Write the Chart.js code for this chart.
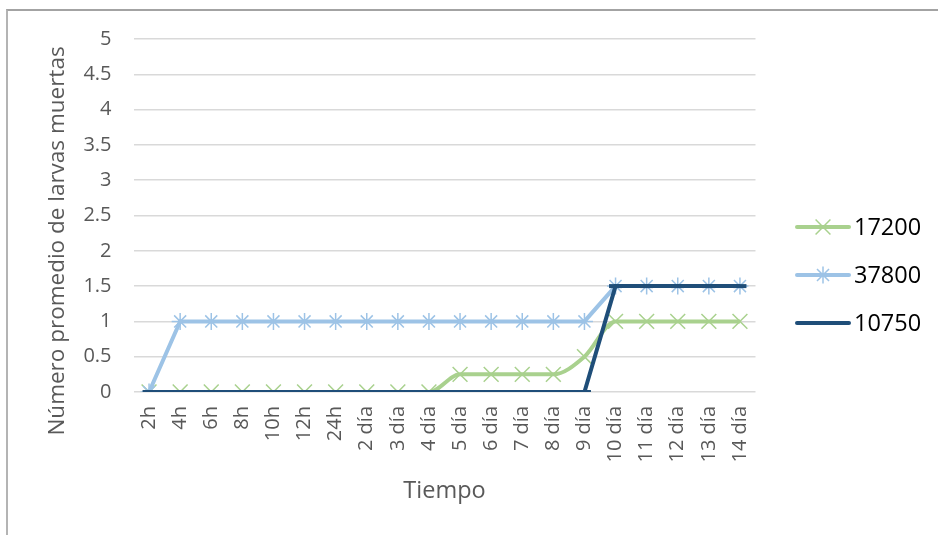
<!DOCTYPE html>
<html>
<head>
<meta charset="utf-8">
<script src="https://cdn.jsdelivr.net/npm/chart.js@4.4.1/dist/chart.umd.min.js"></script>
<style>
  html, body { margin: 0; padding: 0; background: #ffffff; overflow: hidden; }
  #frame { position: absolute; left: 6px; top: 9px; width: 1000px; height: 600px;
           border-left: 2px solid #b4b4b4; border-top: 2px solid #a3a3a3; }
  #wrap { position: absolute; left: 0; top: 0; width: 938px; height: 535px; }
</style>
</head>
<body>
<div id="frame"></div>
<div id="wrap"><canvas id="c" width="938" height="535"></canvas></div>
<script>
// Time points of the bioassay
const categories = ['2h', '4h', '6h', '8h', '10h', '12h', '24h', '2 día', '3 día', '4 día',
                    '5 día', '6 día', '7 día', '8 día', '9 día', '10 día', '11 día', '12 día', '13 día', '14 día'];

// Series names (concentrations)
const seriesNames = ['17200', '37800', '10750'];

// Mean number of dead larvae per time point
const values17200 = [0, 0, 0, 0, 0, 0, 0, 0, 0, 0, 0.25, 0.25, 0.25, 0.25, 0.5, 1, 1, 1, 1, 1];
const values37800 = [0, 1, 1, 1, 1, 1, 1, 1, 1, 1, 1, 1, 1, 1, 1, 1.5, 1.5, 1.5, 1.5, 1.5];
const values10750 = [0, 0, 0, 0, 0, 0, 0, 0, 0, 0, 0, 0, 0, 0, 0, 1.5, 1.5, 1.5, 1.5, 1.5];

// Value axis ticks
const yTicks = [0, 0.5, 1, 1.5, 2, 2.5, 3, 3.5, 4, 4.5, 5];

const yTitle = 'Número promedio de larvas muertas';
const xTitle = 'Tiempo';

const GREEN = '#a9d18e';
const LIGHT_BLUE = '#9dc3e6';
const DARK_BLUE = '#1f4e79';
const AXIS_TEXT = '#595959';
const GRID = '#d9d9d9';
const FONT = '"Open Sans", "Noto Sans", sans-serif';

// Rotated value-axis title
const yTitlePlugin = {
  id: 'yTitle',
  afterDraw(chart) {
    const ctx = chart.ctx;
    ctx.save();
    ctx.translate(58, 241);
    ctx.rotate(-Math.PI / 2);
    ctx.font = '22.5px ' + FONT;
    ctx.fillStyle = AXIS_TEXT;
    ctx.textAlign = 'center';
    ctx.textBaseline = 'middle';
    ctx.fillText(yTitle, 0, 0);
    ctx.restore();
  }
};

// Legend on the right: line sample with marker, then series name
const sideLegend = {
  id: 'sideLegend',
  afterDraw(chart) {
    const ctx = chart.ctx;
    chart.data.datasets.forEach((ds, i) => {
      const y = 227 + 48 * i;
      ctx.save();
      ctx.strokeStyle = ds.borderColor;
      ctx.lineWidth = ds.borderWidth;
      ctx.lineCap = 'round';
      ctx.beginPath();
      ctx.moveTo(797, y);
      ctx.lineTo(849, y);
      ctx.stroke();
      ctx.restore();
      if (Chart.helpers && Chart.helpers.drawPoint) {
        ctx.save();
        ctx.strokeStyle = ds.pointBorderColor;
        ctx.fillStyle = ds.pointBackgroundColor;
        ctx.lineWidth = ds.pointBorderWidth;
        Chart.helpers.drawPoint(ctx, {
          pointStyle: ds.pointStyle, rotation: 0,
          radius: ds.pointRadius, borderWidth: ds.pointBorderWidth
        }, 823, y);
        ctx.restore();
      }
      ctx.save();
      ctx.font = '23.5px ' + FONT;
      ctx.fillStyle = '#000000';
      ctx.textAlign = 'left';
      ctx.textBaseline = 'middle';
      ctx.fillText(ds.label, 854, y + 1);
      ctx.restore();
    });
  }
};

new Chart(document.getElementById('c'), {
  type: 'line',
  data: {
    labels: categories,
    datasets: [
      {
        label: seriesNames[0], data: values17200, order: 3,
        borderColor: GREEN, borderWidth: 4, cubicInterpolationMode: 'monotone',
        pointStyle: 'crossRot', pointRadius: 10.5, pointBorderWidth: 1.5,
        pointBorderColor: GREEN, pointBackgroundColor: GREEN
      },
      {
        label: seriesNames[1], data: values37800, order: 2,
        borderColor: LIGHT_BLUE, borderWidth: 4, tension: 0,
        pointStyle: 'star', pointRadius: 8.5, pointBorderWidth: 1.5,
        pointBorderColor: LIGHT_BLUE, pointBackgroundColor: LIGHT_BLUE
      },
      {
        label: seriesNames[2], data: values10750, order: 1,
        borderColor: DARK_BLUE, borderWidth: 4, tension: 0,
        pointStyle: 'line', pointRadius: 6.5, pointBorderWidth: 4,
        pointBorderColor: DARK_BLUE, pointBackgroundColor: DARK_BLUE
      }
    ]
  },
  options: {
    responsive: false,
    animation: false,
    events: [],
    layout: { padding: { left: 0, top: 39, right: 182.5, bottom: 26 } },
    plugins: {
      legend: { display: false },
      tooltip: { enabled: false }
    },
    scales: {
      x: {
        offset: true,
        grid: { display: false, drawTicks: false },
        border: { display: false },
        ticks: {
          color: AXIS_TEXT, font: { family: FONT, size: 20 },
          minRotation: 90, maxRotation: 90, autoSkip: false, padding: 14
        },
        title: {
          display: true, text: xTitle, color: AXIS_TEXT,
          font: { family: FONT, size: 23.5 }, padding: { top: 4, bottom: 4 }
        },
        afterFit(scale) { scale.height = 117; }
      },
      y: {
        min: 0, max: 5,
        afterBuildTicks(scale) { scale.ticks = yTicks.map(v => ({ value: v })); },
        grid: { color: GRID, lineWidth: 1.5, drawTicks: false },
        border: { display: false },
        ticks: {
          color: AXIS_TEXT, font: { family: FONT, size: 20 }, padding: 22,
          callback: v => String(v)
        },
        afterFit(scale) { scale.width = 133.5; }
      }
    }
  },
  plugins: [yTitlePlugin, sideLegend]
});
</script>
</body>
</html>
